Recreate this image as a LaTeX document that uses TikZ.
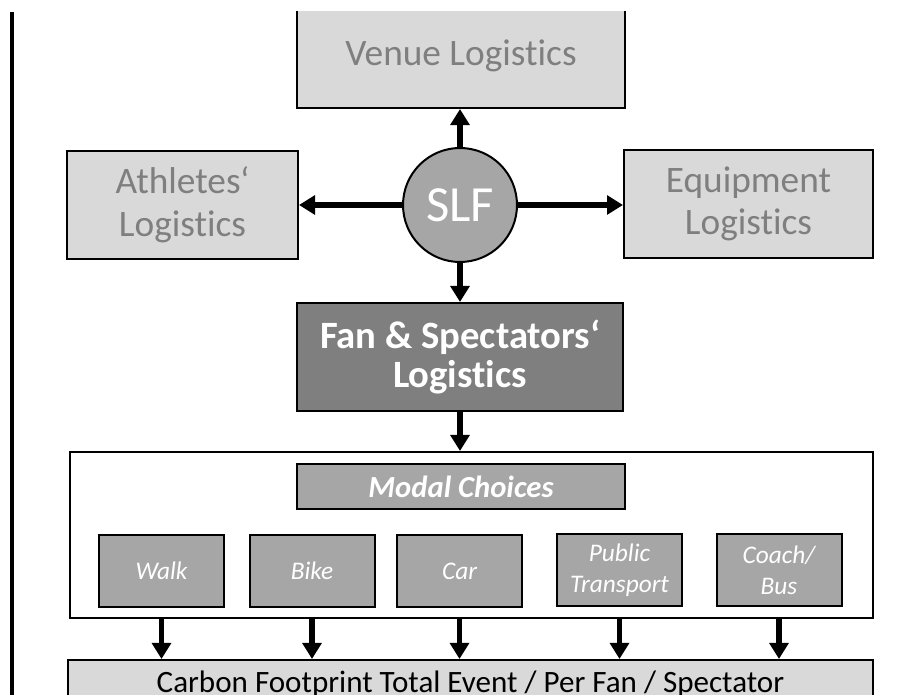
\documentclass[tikz,border=0pt]{standalone}
\usepackage{fontspec}
\setmainfont{Carlito}[Ligatures={TeX,NoCommon,NoContextual}]
\usetikzlibrary{arrows.meta}

\definecolor{boxlight}{HTML}{D9D9D9}
\definecolor{boxmid}{HTML}{A6A6A6}
\definecolor{boxdark}{HTML}{7F7F7F}
\definecolor{greytext}{HTML}{7F7F7F}

\tikzset{
  box/.style={draw=black, line width=1.5pt, align=center, inner sep=0pt},
  lightbox/.style={box, fill=boxlight, text=greytext, font=\fontsize{28}{32}\selectfont},
  fanbox/.style={box, fill=boxdark, text=white, font=\fontsize{29}{29}\selectfont\bfseries},
  modebox/.style={box, fill=boxmid, text=white, minimum width=93.75pt, minimum height=54pt,
    font=\fontsize{19}{23}\selectfont\itshape},
  arr/.style={line width=4pt, -{Triangle[width=14pt,length=12pt]}}
}

\begin{document}
\begin{tikzpicture}[x=0.75pt, y=-0.75pt]
  \useasboundingbox (0,0) rectangle (901,695);
  \clip (0,12) rectangle (901,695);
  \draw[line width=3pt] (11.5,12) -- (11.5,700);

  % upper ring round the SLF
  \node[lightbox, minimum width=246pt, minimum height=78.4pt] (venue) at (461,55.75) {Venue Logistics};
  \node[lightbox, minimum width=173.25pt, minimum height=81pt] (athletes) at (182.5,205) {Athletes‘\\Logistics};
  \node[lightbox, minimum width=186.75pt, minimum height=81pt] (equip) at (748.5,204) {Equipment\\Logistics};
  \node[circle, draw=black, line width=1.5pt, fill=boxmid, text=white, minimum size=85.5pt, inner sep=0pt,
    font=\fontsize{38}{38}\selectfont] (slf) at (460,205) {SLF};
  \node[fanbox, minimum width=244.5pt, minimum height=81pt] (fan) at (460,357) {Fan \& Spectators‘\\Logistics};

  \draw[arr] (slf.north) -- (slf.north |- venue.south);
  \draw[arr] (slf.west) -- (athletes.east);
  \draw[arr] (slf.east) -- (slf.east -| equip.west);
  \draw[arr] (slf.south) -- (slf.south |- fan.north);

  % modal choices
  \node[box, fill=white, minimum width=602.25pt, minimum height=124.5pt] (choices) at (471.5,535) {};
  \node[box, fill=boxmid, text=white, minimum width=246pt, minimum height=33.75pt,
    font=\fontsize{23}{23}\selectfont\bfseries\itshape] (modal) at (461,486.5) {Modal Choices};
  \node[modebox] (walk) at (161.5,571) {Walk};
  \node[modebox] (bike) at (312,571) {Bike};
  \node[modebox] (car) at (459.5,571) {Car};
  \node[modebox] (public) at (619.5,570) {Public\\Transport};
  \node[modebox] (coach) at (779,570) {Coach/\\Bus};

  \draw[arr] (fan.south) -- (fan.south |- choices.north);

  \node[box, fill=boxlight, minimum width=603.75pt, minimum height=36pt,
    font=\fontsize{23.3}{23.3}\selectfont] (carbon) at (470.5,684) {Carbon Footprint Total Event / Per Fan / Spectator};

  \foreach \m in {walk,bike,car,public,coach}
    \draw[arr] (\m.south |- choices.south) -- (\m.south |- carbon.north);
\end{tikzpicture}
\end{document}
